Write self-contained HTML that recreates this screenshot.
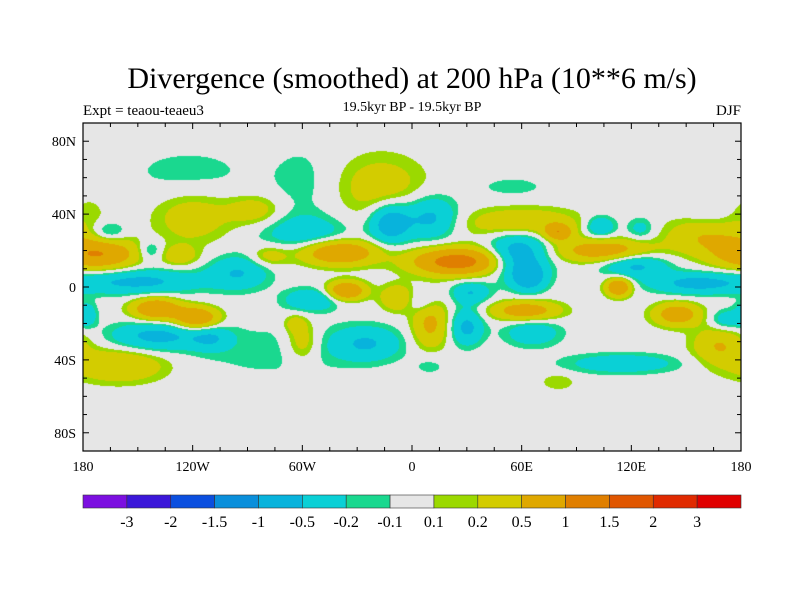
<!DOCTYPE html>
<html><head><meta charset="utf-8"><style>
body{margin:0;background:#fff;width:800px;height:600px;overflow:hidden;position:relative;font-family:"Liberation Serif",serif}
#map{position:absolute;left:83px;top:123px}
svg{position:absolute;left:0;top:0}
</style></head><body>
<canvas id="map" width="658" height="328"></canvas>
<svg id="ov" width="800" height="600">
<text x="412" y="88" font-size="30" text-anchor="middle">Divergence (smoothed) at 200 hPa (10**6 m/s)</text>
<text x="83" y="115" font-size="15">Expt = teaou-teaeu3</text>
<text x="412" y="111" font-size="14" text-anchor="middle">19.5kyr BP - 19.5kyr BP</text>
<text x="741" y="115" font-size="15" text-anchor="end">DJF</text>
<g id="axes"></g>
<g id="cbar"></g>
</svg>
<script>
// blobs: lon, lat, half-extent lon, half-extent lat (of 0.1 contour), peak value
const blobLon=[-122,-60,-17,-45,163,-178,-120,-86,-166,-143,-172,-127,-150,-95,-55,-12,10,-40,-78,-36,-8,-55,-140,-118,-140,-110,-178,-160,-25,-75,-60,-64,25,60,80,58,64,103,125,105,122,155,113,160,62,10,30,32,5,66,145,168,172,115,10,80,55];
const blobLat=[63,57,55,32,40,40,38,42,30,20,18,17,3,8,30,35,38,19,17,-2,-6,-7,-12,-17,-27,-28,-15,-43,-31,-35,-30,-20,14,35,30,18,5,33,32,20,12,2,0,28,-13,-20,-22,-3,-8,-25,-15,-32,-18,-42,-43,-52,55];
const blobSx=[18,9,21,12,7,6,18,13,8,6,25,9,35,16,25,12,15,24,9,12,9,14,15,14,25,10,5,25,18,25,8,5,30,30,8,18,10,8,6,28,18,25,8,20,20,10,9,10,7,14,14,14,8,28,5,6,10];
const blobSy=[7,11,15,5,5,6,12,7,5,5,10,5,7,9,10,12,12,8,5,6,7,6,7,7,8,6,6,9,9,8,10,4,9,8,5,14,8,6,5,7,7,6,6,10,6,14,10,6,5,7,7,10,5,5,3,3,3];
const blobVal=[-0.15,-0.15,0.35,0.15,-0.15,0.15,0.35,0.35,-0.35,-0.35,1.0,0.35,-0.6,-0.5,-0.5,-0.8,-0.6,1.0,0.35,1.0,0.5,-0.5,1.0,1.0,-0.6,-0.4,-0.4,0.5,-0.5,-0.15,0.4,0.3,1.3,0.5,0.8,-0.8,-0.7,-0.5,-0.3,0.8,-0.6,-0.6,1.0,0.5,0.8,0.6,-0.6,-0.5,-0.3,-0.4,0.8,0.5,-0.4,-0.4,-0.15,0.2,-0.15];
const levels=[-3,-2,-1.5,-1,-0.5,-0.2,-0.1,0.1,0.2,0.5,1,1.5,2,3];
const levelLabels=["-3","-2","-1.5","-1","-0.5","-0.2","-0.1","0.1","0.2","0.5","1","1.5","2","3"];
const colors=["#7c0fe0","#3b17d9","#0b4fdf","#0a8fdb","#08b3dc","#0ad0d6","#1ad88f","#e6e6e6","#9bd900","#d3cc00","#dfa800","#e07f00","#e05600","#e02a00","#e00000"];
const spread=1.3;

const W=658,H=328,x0=83,y0=123;
const xs=lon=>x0+(lon+180)/360*W;
const ys=lat=>y0+(90-lat)/180*H;

const cv=document.getElementById('map'),ctx=cv.getContext('2d');
const img=ctx.createImageData(W,H);
const sig=blobVal.map((v,i)=>{const k=Math.sqrt(2*Math.log(Math.abs(v)/0.1));return [spread*blobSx[i]/k,spread*blobSy[i]/k];});
const rgb=colors.map(c=>[parseInt(c.substr(1,2),16),parseInt(c.substr(3,2),16),parseInt(c.substr(5,2),16)]);
for(let py=0;py<H;py++){const lat=90-(py+0.5)/H*180;
 for(let px=0;px<W;px++){const lon=-180+(px+0.5)/W*360;let f=0;
  for(let i=0;i<blobVal.length;i++){let d=lon-blobLon[i];if(d>180)d-=360;if(d<-180)d+=360;
   const a=d/sig[i][0],b=(lat-blobLat[i])/sig[i][1];const e=a*a+b*b;if(e<30)f+=blobVal[i]*Math.exp(-0.5*e);}
  let k=0;while(k<levels.length&&f>=levels[k])k++;
  const c=rgb[k],o=(py*W+px)*4;img.data[o]=c[0];img.data[o+1]=c[1];img.data[o+2]=c[2];img.data[o+3]=255;}}
ctx.putImageData(img,0,0);

const NS='http://www.w3.org/2000/svg';
function mk(t,at,p){const e=document.createElementNS(NS,t);for(const k in at)e.setAttribute(k,at[k]);p.appendChild(e);return e;}
const ax=document.getElementById('axes');
const frame=mk('rect',{x:x0,y:y0,width:W,height:H,fill:'none',stroke:'#000','stroke-width':1.2},ax);


for(let lon=-180;lon<=180;lon+=15){const x=xs(lon),L=lon%60===0?6:4;
 const t1=mk('line',{x1:x,x2:x,y1:y0+H,y2:y0+H-L,stroke:'#000'},ax);
 
 
 mk('line',{x1:x,x2:x,y1:y0,y2:y0+L,stroke:'#000'},ax);}
const xLabVals=[-180,-120,-60,0,60,120,180],xLab=["180","120W","60W","0","60E","120E","180"];
xLabVals.forEach((v,i)=>{const t=mk('text',{x:xs(v),y:471,'font-size':14,'text-anchor':'middle'},ax);t.textContent=xLab[i];
 
 });
for(let lat=-90;lat<=90;lat+=10){const y=ys(lat),L=lat%40===0?6:4;
 const t2=mk('line',{x1:x0,x2:x0+L,y1:y,y2:y,stroke:'#000'},ax);
 
 
 mk('line',{x1:x0+W,x2:x0+W-L,y1:y,y2:y,stroke:'#000'},ax);}
const yLabVals=[80,40,0,-40,-80],yLab=["80N","40N","0","40S","80S"];
yLabVals.forEach((v,i)=>{const t=mk('text',{x:76,y:ys(v)+5,'font-size':14,'text-anchor':'end'},ax);t.textContent=yLab[i];
 
 });

const cb=document.getElementById('cbar');const bw=W/colors.length;
colors.forEach((c,i)=>{const r=mk('rect',{x:x0+i*bw,y:495,width:bw,height:13,fill:c,stroke:'#333','stroke-width':0.6},cb);
 
 });
levelLabels.forEach((l,i)=>{const t=mk('text',{x:x0+(i+1)*bw,y:527,'font-size':16,'text-anchor':'middle'},cb);t.textContent=l;
 
 });
</script>
</body></html>
